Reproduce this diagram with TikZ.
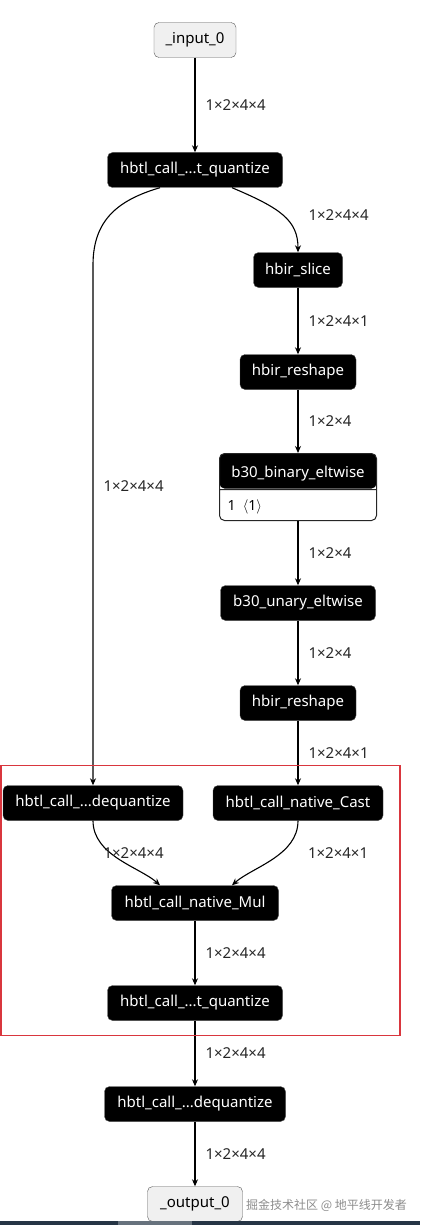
\documentclass[tikz,border=0pt]{standalone}
\usepackage{fontspec}
\setmainfont{Noto Sans}
\newfontfamily\cjk{Noto Sans CJK SC}
\usepackage{xcolor}
\usetikzlibrary{arrows.meta,positioning,shapes.multipart}
\definecolor{iofill}{HTML}{F0F0F0}
\definecolor{hired}{HTML}{D9363E}
\definecolor{barbg}{HTML}{263545}
\tikzset{
  opnode/.style={
    draw=black!70,
    fill=black,
    text=white,
    rounded corners=5pt,
    minimum height=35pt,
    inner xsep=8pt,
    inner ysep=0pt,
    font=\fontsize{15}{18}\selectfont
  },
  ionode/.style={
    opnode,
    fill=iofill,
    draw=black!65,
    text=black
  },
  binop/.style={
    draw=black!85,
    line width=1pt,
    fill=white,
    text=white,
    rectangle split,
    rectangle split parts=2,
    text width=141pt,
    align=left,
    rounded corners=5pt,
    inner xsep=8pt,
    inner ysep=0pt,
    font=\fontsize{15}{18}\selectfont,
    path picture={\fill[black] (path picture bounding box.north west) rectangle ([yshift=-35pt]path picture bounding box.north east);}
  },
  dims/.style={
    anchor=west,
    xshift=10pt,
    inner sep=0pt,
    text=black!85,
    font=\fontsize{15}{17}\selectfont
  },
  flow/.style={-{Stealth[length=7pt,width=6pt]},line width=1.1pt},
  hilite/.style={draw=hired,line width=1.6pt}
}

\begin{document}
\begin{tikzpicture}[x=1pt,y=-1pt]
  \useasboundingbox (0,0) rectangle (420,1225);
  \node[ionode,minimum width=82pt] (in) at (195,40) {\_input\_0};
  \node[opnode,minimum width=175pt] (qz) at (195,170) {hbtl\_call\_...t\_quantize};
  \node[opnode,minimum width=89pt] (sl) at (298,270) {hbir\_slice};
  \node[opnode,minimum width=116pt] (rs1) at (298,372) {hbir\_reshape};
  \node[binop,anchor=north] (bin) at (298,453) {\makebox[141pt]{\rule[-12pt]{0pt}{35pt}b30\_binary\_eltwise}
    \nodepart{two}\textcolor{black}{\rule[-10pt]{0pt}{30pt}\fontsize{14}{16}\selectfont\textbf{1}\,\ $\langle$1$\rangle$}};
  \node[opnode,minimum width=155pt] (un) at (298,603) {b30\_unary\_eltwise};
  \node[opnode,minimum width=116pt] (rs2) at (298,703) {hbir\_reshape};
  \node[opnode,minimum width=180pt] (dq) at (93,803) {hbtl\_call\_...dequantize};
  \node[opnode,minimum width=170pt] (cast) at (298,803) {hbtl\_call\_native\_Cast};
  \node[opnode,minimum width=167pt] (mul) at (195,903) {hbtl\_call\_native\_Mul};
  \node[opnode,minimum width=175pt] (qz2) at (195,1003) {hbtl\_call\_...t\_quantize};
  \node[opnode,minimum width=181pt] (dq2) at (195,1104) {hbtl\_call\_...dequantize};
  \node[ionode,minimum width=95pt] (out) at (195,1204) {\_output\_0};
  \node[anchor=west,inner sep=0pt,text=black!45,font=\cjk\fontsize{12}{14}\selectfont] (wmark) at (246,1205) {掘金技术社区 @ 地平线开发者};
  \coordinate (bendL) at (93,265);

  \draw[flow] (in) -- node[dims]{1×2×4×4} (qz);
  \draw[flow] ([xshift=-35pt]qz.south) .. controls (118,200) and (93,220) .. (bendL) -- node[dims,pos=0.425]{1×2×4×4} (dq.north);
  \draw[flow] ([xshift=37pt]qz.south) .. controls (280,208) and (298,220) .. node[dims,xshift=15pt]{1×2×4×4} (sl.north);
  \draw[flow] (sl) -- node[dims]{1×2×4×1} (rs1);
  \draw[flow] (rs1) -- node[dims]{1×2×4} (bin.north);
  \draw[flow] (bin.south) -- node[dims]{1×2×4} (un);
  \draw[flow] (un) -- node[dims]{1×2×4} (rs2);
  \draw[flow] (rs2) -- node[dims]{1×2×4×1} (cast);
  \draw[flow] (dq.south) .. controls +(0,35) and +(-20,-18) .. node[dims,xshift=-26pt,yshift=6pt]{1×2×4×4} ([xshift=-35pt]mul.north);
  \draw[flow] (cast.south) .. controls +(0,35) and +(20,-18) .. node[dims,xshift=25pt,yshift=6pt]{1×2×4×1} ([xshift=37pt]mul.north);
  \draw[flow] (mul) -- node[dims]{1×2×4×4} (qz2);
  \draw[flow] (qz2) -- node[dims]{1×2×4×4} (dq2);
  \draw[flow] (dq2) -- node[dims]{1×2×4×4} (out);

  \draw[hilite] (1,765.5) rectangle (400,1035.5);
  \fill[barbg] (0,1221) rectangle (420,1225);
  \fill[barbg!70!white] (118,1221) rectangle (192,1225);
\end{tikzpicture}
\end{document}
